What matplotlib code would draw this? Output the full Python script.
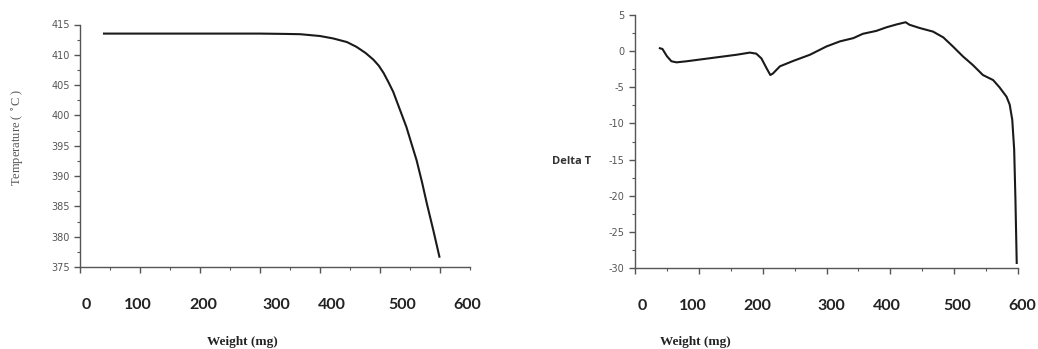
import numpy as np
import matplotlib.pyplot as plt
from matplotlib.ticker import MultipleLocator

plt.rcParams["axes.unicode_minus"] = False

# ---- left panel: temperature vs weight ----
temp_x = [40, 100, 200, 300, 340, 367, 400, 422, 445, 461, 476, 489, 498, 506,
          514, 522, 533, 544, 552, 561, 570, 578, 589, 599]
temp_y = [413.5, 413.5, 413.5, 413.5, 413.45, 413.4, 413.1, 412.7, 412.1, 411.3,
          410.3, 409.2, 408.2, 407.0, 405.5, 403.9, 401.0, 398.1, 395.5, 392.6,
          389.0, 385.5, 381.0, 376.7]

# ---- right panel: delta T vs weight ----
dt_x = [39, 43, 50, 57, 65, 81, 133, 159, 180, 190, 198, 206, 212, 216, 227, 248,
        274, 300, 321, 342, 357, 378, 394, 410, 424, 430, 446, 467, 483, 498, 514,
        529, 545, 561, 571, 582, 587, 591, 594, 596, 598]
dt_y = [0.4, 0.3, -0.7, -1.4, -1.55, -1.4, -0.8, -0.5, -0.2, -0.35, -1.0, -2.35,
        -3.3, -3.1, -2.1, -1.35, -0.5, 0.65, 1.35, 1.8, 2.4, 2.8, 3.3, 3.7, 4.0,
        3.65, 3.2, 2.7, 1.9, 0.65, -0.75, -1.9, -3.3, -4.0, -5.0, -6.3, -7.4,
        -9.5, -13.6, -20.6, -29.3]

# overlaid weight labels (placed by hand under each panel, not on the ticks)
wt_labels = ["0", "100", "200", "300", "400", "500", "600"]
left_label_pos = [10, 97, 205, 327, 420, 537, 645]
right_label_pos = [11, 91, 192, 308, 394, 504, 606]

W, H = 1038, 349
fig = plt.figure(figsize=(W / 100, H / 100), dpi=100)


def style_axes(ax, xlim, ylim, ymaj, ymin):
    ax.set_xlim(*xlim)
    ax.set_ylim(*ylim)
    for s in ("top", "right"):
        ax.spines[s].set_visible(False)
    for s in ("left", "bottom"):
        ax.spines[s].set_color("#555555")
        ax.spines[s].set_linewidth(1.0)
    ax.xaxis.set_major_locator(MultipleLocator(100))
    ax.xaxis.set_minor_locator(MultipleLocator(50))
    ax.yaxis.set_major_locator(MultipleLocator(ymaj))
    ax.yaxis.set_minor_locator(MultipleLocator(ymin))
    ax.tick_params(which="major", direction="out", length=4, width=1.0,
                   color="#555555", labelsize=7, labelcolor="#555555")
    ax.tick_params(which="minor", direction="out", length=2, width=0.8,
                   color="#555555")
    ax.set_xticklabels([])
    ax.patch.set_alpha(0)


ax1 = fig.add_axes([80 / W, 82 / H, 390 / W, 242.5 / H])
style_axes(ax1, (0, 650), (375, 415), 5, 2.5)
ax1.plot(temp_x, temp_y, color="#1a1a1a", lw=1.5)
ax1.set_yticks(np.arange(375, 416, 5))
fig.text(18 / W, 1 - 137 / H, "Temperature ( $^{\\circ}$C )", rotation=90,
         ha="center", va="center", family="Liberation Serif", fontsize=9,
         color="#555555")
for lab, xp in zip(wt_labels, left_label_pos):
    ax1.text(xp, -0.157, lab, transform=ax1.get_xaxis_transform(),
             ha="center", va="center", fontsize=11.5, family="Lato",
             fontweight="bold", color="#222222", clip_on=False)
ax1.text(270, -0.31, "Weight (mg)", transform=ax1.get_xaxis_transform(),
         ha="center", va="center", fontsize=9.5, family="Liberation Serif",
         fontweight="bold", color="#222222", clip_on=False)

ax2 = fig.add_axes([635 / W, 81 / H, 383 / W, 253 / H])
style_axes(ax2, (0, 600), (-30, 5), 5, 2.5)
ax2.plot(dt_x, dt_y, color="#1a1a1a", lw=1.5)
ax2.set_yticks(np.arange(-30, 6, 5))
fig.text(572 / W, 1 - 162 / H, "Delta T", ha="center", va="center",
         fontsize=8, family="Open Sans", fontweight="bold", color="#333333")
for lab, xp in zip(wt_labels, right_label_pos):
    ax2.text(xp, -0.152, lab, transform=ax2.get_xaxis_transform(),
             ha="center", va="center", fontsize=11.5, family="Lato",
             fontweight="bold", color="#222222", clip_on=False)
ax2.text(94, -0.294, "Weight (mg)", transform=ax2.get_xaxis_transform(),
         ha="center", va="center", fontsize=9.5, family="Liberation Serif",
         fontweight="bold", color="#222222", clip_on=False)

fig.savefig("out.png", dpi=100)
